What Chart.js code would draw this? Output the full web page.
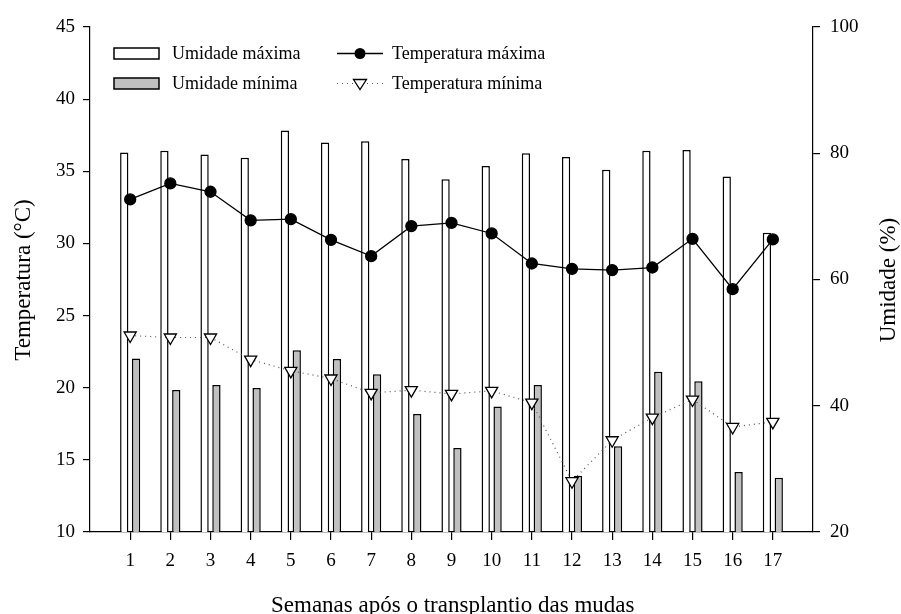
<!DOCTYPE html>
<html>
<head>
<meta charset="utf-8">
<script src="https://cdn.jsdelivr.net/npm/chart.js@4"></script>
<style>
  body { margin: 0; background: #fff; }
</style>
</head>
<body>
<canvas id="myChart" width="901" height="614"></canvas>
<script>
const semanas = [1, 2, 3, 4, 5, 6, 7, 8, 9, 10, 11, 12, 13, 14, 15, 16, 17];
const umidadeMax = [80.1, 80.4, 79.8, 79.3, 83.6, 81.7, 81.9, 79.1, 75.9, 78.0, 80.0, 79.4, 77.4, 80.4, 80.5, 76.3, 67.4];
const umidadeMin = [47.5, 42.5, 43.3, 42.8, 48.8, 47.4, 45.0, 38.7, 33.3, 39.9, 43.3, 28.9, 33.6, 45.4, 43.9, 29.5, 28.6];
const tempMax = [33.05, 34.16, 33.58, 31.6, 31.68, 30.25, 29.12, 31.2, 31.43, 30.69, 28.61, 28.24, 28.15, 28.33, 30.32, 26.83, 30.28];
const tempMin = [23.62, 23.48, 23.48, 21.95, 21.17, 20.64, 19.64, 19.83, 19.57, 19.78, 18.97, 13.52, 16.36, 17.93, 19.18, 17.28, 17.63];
const tempTicks = [10, 15, 20, 25, 30, 35, 40, 45];
const umidTicks = [20, 40, 60, 80, 100];

const serif = '"Liberation Serif", "Times New Roman", serif';
Chart.defaults.font.family = serif;
Chart.defaults.color = '#000';

const pts = arr => arr.map((v, i) => ({ x: semanas[i], y: v }));

// legend + axis titles drawn by hand (legend sits inside the plot, 2x2)
const extras = {
  id: 'extras',
  afterDraw(chart) {
    const c = chart.ctx;
    c.save();
    c.fillStyle = '#000';
    c.strokeStyle = '#000';

    // legend
    c.font = '18px ' + serif;
    c.textBaseline = 'alphabetic';
    c.textAlign = 'left';
    c.lineWidth = 1.5;
    c.fillStyle = '#fff';
    c.fillRect(114, 48, 45, 11);
    c.strokeRect(114, 48, 45, 11);
    c.fillStyle = '#c0c0c0';
    c.fillRect(114, 78, 45, 11);
    c.strokeRect(114, 78, 45, 11);
    c.fillStyle = '#000';
    c.fillText('Umidade máxima', 172, 59);
    c.fillText('Umidade mínima', 172, 89);

    c.lineWidth = 1.3;
    c.beginPath();
    c.moveTo(337, 53.5);
    c.lineTo(383, 53.5);
    c.stroke();
    c.beginPath();
    c.arc(360, 53.5, 5.5, 0, Math.PI * 2);
    c.fill();

    c.save();
    c.strokeStyle = '#555';
    c.lineWidth = 1.2;
    c.setLineDash([1, 4]);
    c.beginPath();
    c.moveTo(337, 83.5);
    c.lineTo(383, 83.5);
    c.stroke();
    c.restore();
    c.beginPath();
    c.moveTo(353.5, 79.5);
    c.lineTo(366.5, 79.5);
    c.lineTo(360, 89.5);
    c.closePath();
    c.fillStyle = '#fff';
    c.fill();
    c.lineWidth = 1.3;
    c.stroke();
    c.fillStyle = '#000';
    c.fillText('Temperatura máxima', 392, 59);
    c.fillText('Temperatura mínima', 392, 89);

    // axis titles
    c.font = '23px ' + serif;
    c.fillText('Semanas após o transplantio das mudas', 271, 612);
    c.textAlign = 'center';
    c.save();
    c.translate(30, 280);
    c.rotate(-Math.PI / 2);
    c.fillText('Temperatura (°C)', 0, 0);
    c.restore();
    c.save();
    c.translate(895, 280);
    c.rotate(-Math.PI / 2);
    c.fillText('Umidade (%)', 0, 0);
    c.restore();

    c.restore();
  }
};

const ctx = document.getElementById('myChart');

new Chart(ctx, {
  type: 'bar',
  data: {
    datasets: [
      {
        type: 'bar',
        label: 'Umidade máxima',
        data: pts(umidadeMax),
        yAxisID: 'y1',
        backgroundColor: '#fff',
        borderColor: '#000',
        borderWidth: 1.5,
        categoryPercentage: 0.59,
        barPercentage: 0.7,
        order: 2
      },
      {
        type: 'line',
        label: 'Temperatura máxima',
        data: pts(tempMax),
        yAxisID: 'y',
        borderColor: '#000',
        borderWidth: 1.3,
        pointRadius: 5.5,
        pointBackgroundColor: '#000',
        pointBorderColor: '#000',
        tension: 0,
        order: 1
      },
      {
        type: 'bar',
        label: 'Umidade mínima',
        data: pts(umidadeMin),
        yAxisID: 'y1',
        backgroundColor: '#c0c0c0',
        borderColor: '#000',
        borderWidth: 1.5,
        categoryPercentage: 0.59,
        barPercentage: 0.7,
        order: 2
      },
      {
        type: 'line',
        label: 'Temperatura mínima',
        data: pts(tempMin),
        yAxisID: 'y',
        borderColor: '#555',
        borderWidth: 1.2,
        borderDash: [1, 4],
        pointStyle: 'triangle',
        rotation: 180,
        pointRadius: 7,
        pointBackgroundColor: '#fff',
        pointBorderColor: '#000',
        pointBorderWidth: 1.3,
        tension: 0,
        order: 1
      }
    ]
  },
  options: {
    responsive: false,
    animation: false,
    layout: { padding: { top: 27, left: 0, right: 0, bottom: 0 } },
    plugins: {
      legend: { display: false },
      tooltip: { enabled: false }
    },
    scales: {
      x: {
        type: 'linear',
        position: 'bottom',
        min: 0,
        max: 18,
        offset: false,
        afterBuildTicks: s => { s.ticks = semanas.map(v => ({ value: v })); },
        afterFit: s => { s.height = 82; },
        ticks: { font: { size: 19 }, padding: 10, autoSkip: false, maxRotation: 0 },
        grid: { offset: false, drawOnChartArea: false, tickLength: 8, color: '#000', lineWidth: 1.2 },
        border: { color: '#000', width: 1.2 }
      },
      y: {
        position: 'left',
        min: 10,
        max: 45,
        afterBuildTicks: s => { s.ticks = tempTicks.map(v => ({ value: v })); },
        afterFit: s => { s.width = 90; },
        ticks: { font: { size: 19 }, padding: 8 },
        grid: { drawOnChartArea: false, tickLength: 7, color: '#000', lineWidth: 1.2 },
        border: { color: '#000', width: 1.2 }
      },
      y1: {
        position: 'right',
        min: 20,
        max: 100,
        afterBuildTicks: s => { s.ticks = umidTicks.map(v => ({ value: v })); },
        afterFit: s => { s.width = 88; },
        ticks: { font: { size: 19 }, padding: 10 },
        grid: { drawOnChartArea: false, tickLength: 7, color: '#000', lineWidth: 1.2 },
        border: { color: '#000', width: 1.2 }
      }
    }
  },
  plugins: [extras]
});
</script>
</body>
</html>
